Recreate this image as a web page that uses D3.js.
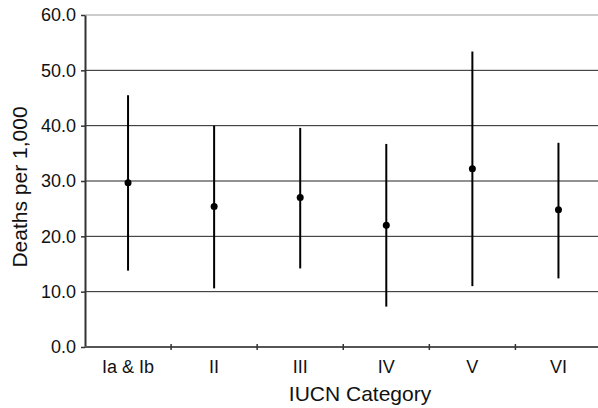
<!DOCTYPE html>
<html>
<head>
<meta charset="utf-8">
<script src="https://cdn.jsdelivr.net/npm/d3@7"></script>
<style>
  body { margin: 0; background: #fff; }
  svg { display: block; font-family: Arial, "Liberation Sans", sans-serif; }
</style>
</head>
<body>
<div id="chart"></div>
<script>
// IUCN category mortality: mean with low/high range
const categories = ["Ia & Ib", "II", "III", "IV", "V", "VI"];
const means = [29.7, 25.4, 27.0, 22.0, 32.2, 24.8];
const lows = [13.8, 10.6, 14.2, 7.3, 11.0, 12.4];
const highs = [45.5, 40.0, 39.6, 36.7, 53.4, 36.9];
const yTicks = [0, 10, 20, 30, 40, 50, 60];

const width = 598;
const height = 408;

const svg = d3.select("#chart")
  .append("svg")
  .attr("width", width)
  .attr("height", height);

const x = d3.scaleBand()
  .domain(categories)
  .range([85, 601.5])
  .paddingInner(0)
  .paddingOuter(0);

const y = d3.scaleLinear()
  .domain([0, 60])
  .range([347, 15]);

// gridlines
svg.append("g")
  .selectAll("line")
  .data(yTicks.slice(1))
  .enter()
  .append("line")
  .attr("x1", x.range()[0])
  .attr("x2", width)
  .attr("y1", d => y(d))
  .attr("y2", d => y(d))
  .attr("stroke", d => d === 60 ? "#999" : "#222")
  .attr("stroke-width", 1);

// y axis
const yAxis = svg.append("g")
  .attr("transform", `translate(${x.range()[0]},0)`)
  .call(d3.axisLeft(y).tickValues(yTicks).tickFormat(d3.format(".1f")).tickSize(4).tickSizeOuter(0));
yAxis.select(".domain").attr("stroke", "#333").attr("stroke-width", 2);
yAxis.selectAll(".tick line").attr("stroke", "#333").attr("stroke-width", 1.5);
yAxis.selectAll(".tick text")
  .attr("x", -9)
  .attr("fill", "#111")
  .style("font-size", "18px")
  .style("font-family", "Arial, 'Liberation Sans', sans-serif");

// x axis with ticks at the category boundaries
const bounds = categories.slice(1).map(c => x(c));
const xAxisG = svg.append("g");
xAxisG.append("line")
  .attr("x1", x.range()[0])
  .attr("x2", width)
  .attr("y1", y(0))
  .attr("y2", y(0))
  .attr("stroke", "#555")
  .attr("stroke-width", 2);
xAxisG.selectAll(".xt")
  .data(bounds)
  .enter()
  .append("line")
  .attr("x1", d => d)
  .attr("x2", d => d)
  .attr("y1", y(0) - 3)
  .attr("y2", y(0) + 3)
  .attr("stroke", "#333")
  .attr("stroke-width", 1.5);
xAxisG.selectAll("text")
  .data(categories)
  .enter()
  .append("text")
  .attr("x", d => x(d) + x.bandwidth() / 2)
  .attr("y", 373)
  .attr("text-anchor", "middle")
  .attr("fill", "#111")
  .style("font-size", "18px")
  .text(d => d);

// error bars
const rows = categories.map((c, i) => ({ cat: c, mean: means[i], low: lows[i], high: highs[i] }));

svg.append("g")
  .selectAll("line")
  .data(rows)
  .enter()
  .append("line")
  .attr("x1", d => x(d.cat) + x.bandwidth() / 2)
  .attr("x2", d => x(d.cat) + x.bandwidth() / 2)
  .attr("y1", d => y(d.low))
  .attr("y2", d => y(d.high))
  .attr("stroke", "#000")
  .attr("stroke-width", 2);

svg.append("g")
  .selectAll("circle")
  .data(rows)
  .enter()
  .append("circle")
  .attr("cx", d => x(d.cat) + x.bandwidth() / 2)
  .attr("cy", d => y(d.mean))
  .attr("r", 3.5)
  .attr("fill", "#000");

// axis titles
svg.append("text")
  .attr("transform", `translate(27,${(y(0) + y(60)) / 2 + 6}) rotate(-90)`)
  .attr("text-anchor", "middle")
  .attr("fill", "#111")
  .style("font-size", "21px")
  .text("Deaths per 1,000");

svg.append("text")
  .attr("x", 360)
  .attr("y", 401)
  .attr("text-anchor", "middle")
  .attr("fill", "#111")
  .style("font-size", "21px")
  .text("IUCN Category");
</script>
</body>
</html>
